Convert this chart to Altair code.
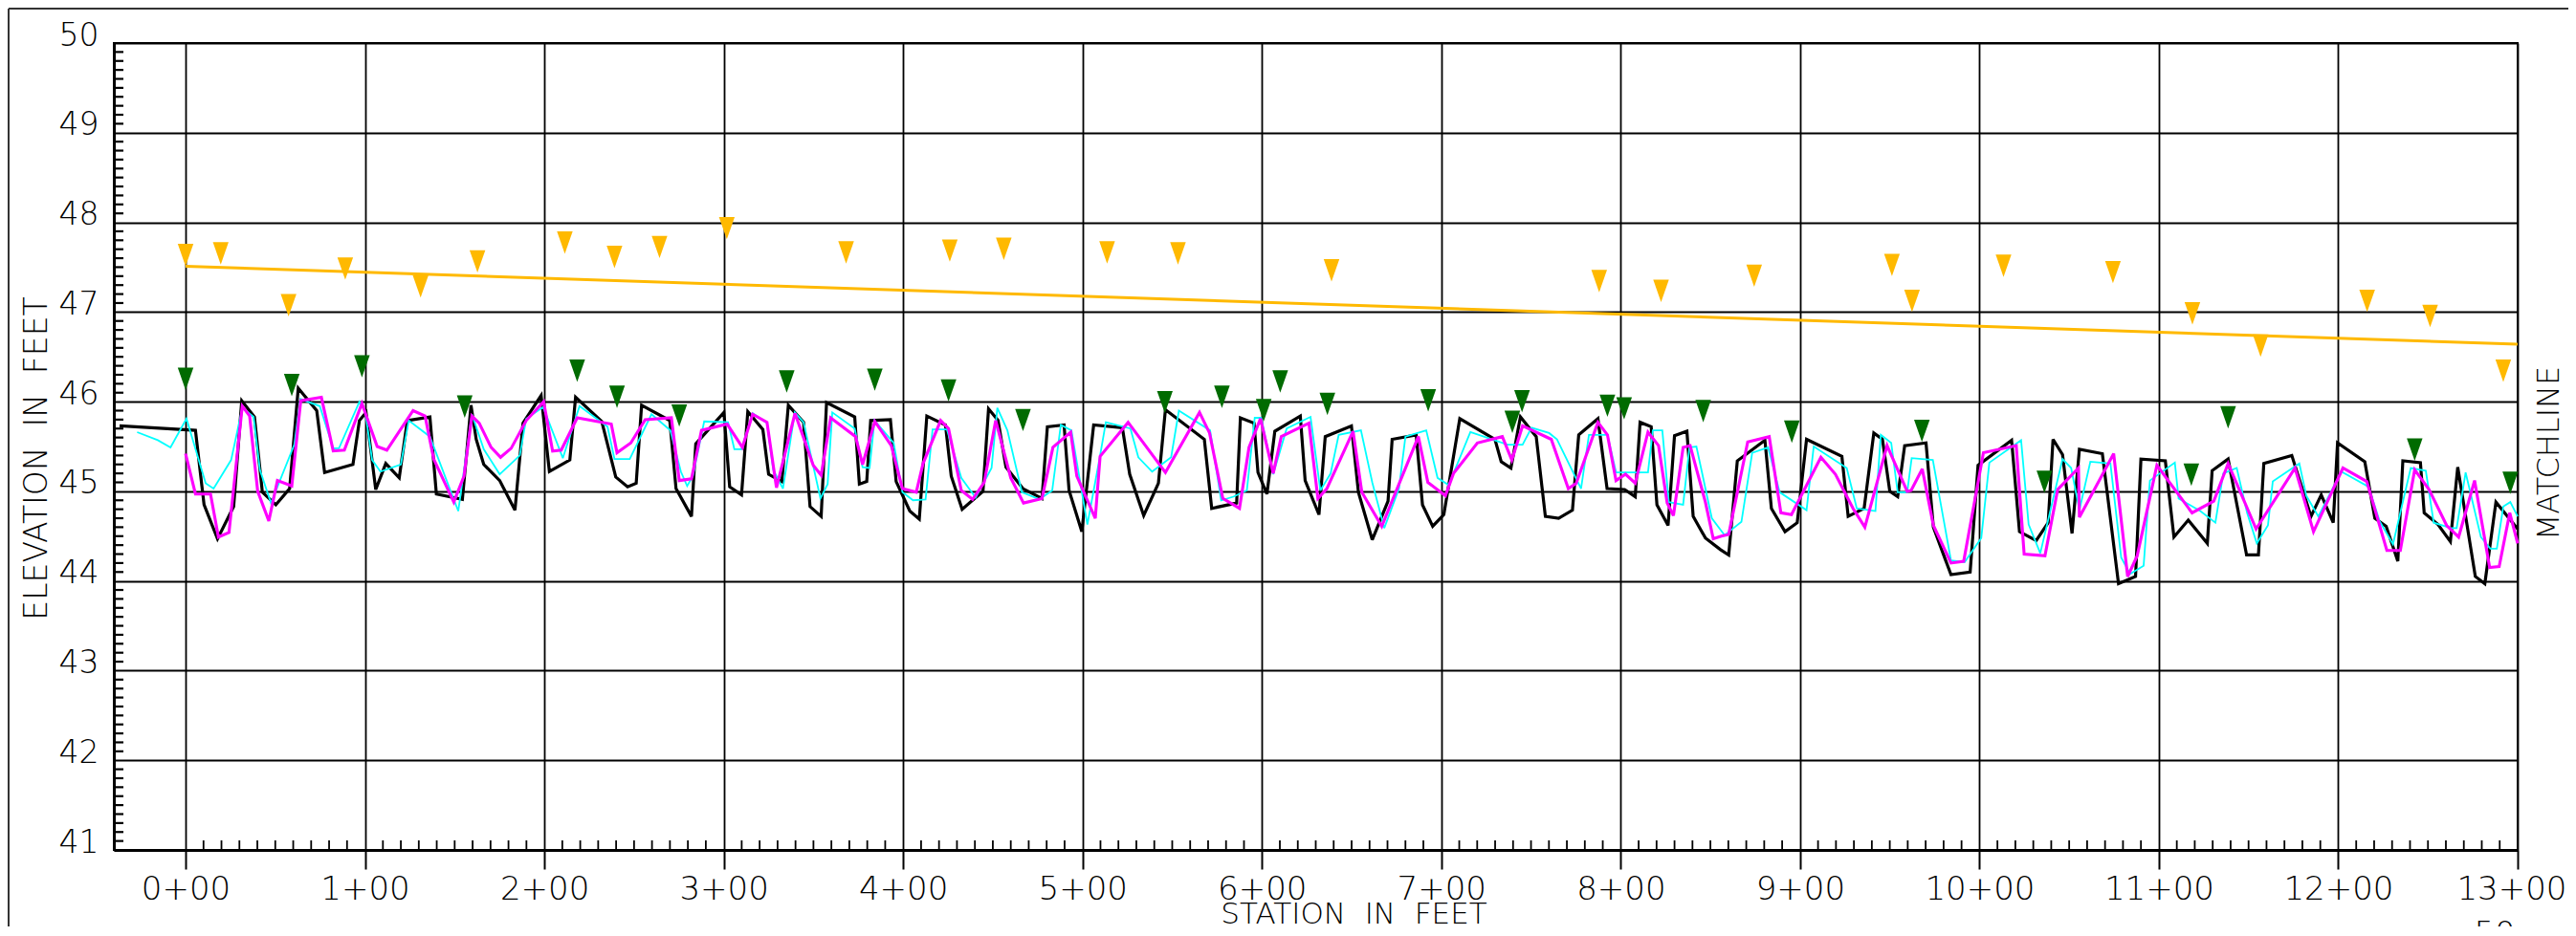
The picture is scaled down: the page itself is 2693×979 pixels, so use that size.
import altair as alt
import pandas as pd

# ---------------- data ----------------
X_MIN, X_MAX = -40, 1300
Y_MIN, Y_MAX = 41, 50

station_ticks = [0, 100, 200, 300, 400, 500, 600, 700, 800, 900, 1000, 1100, 1200, 1300]
station_labels = ["0+00", "1+00", "2+00", "3+00", "4+00", "5+00", "6+00", "7+00",
                  "8+00", "9+00", "10+00", "11+00", "12+00", "13+00"]
elev_ticks = [41, 42, 43, 44, 45, 46, 47, 48, 49, 50]
elev_labels = ["41", "42", "43", "44", "45", "46", "47", "48", "49", "50"]

black_line = [
    (-36.8, 45.73), (5.5, 45.68), (10.3, 44.85), (17.8, 44.47), (26.8, 44.83), (31.3, 46.01),
    (38.4, 45.83), (42.8, 44.99), (50.3, 44.85), (58.0, 45.03), (62.8, 46.15), (73.1, 45.90),
    (77.5, 45.21), (93.3, 45.30), (96.9, 45.79), (100.6, 45.88), (106.0, 45.02), (111.6, 45.31),
    (119.1, 45.15), (123.6, 45.79), (136.2, 45.83), (139.8, 44.97), (154.3, 44.91), (159.1, 45.96),
    (162.0, 45.58), (166.2, 45.30), (175.1, 45.12), (183.6, 44.79), (188.1, 45.76), (198.2, 46.07),
    (202.8, 45.22), (214.2, 45.35), (217.4, 46.05), (232.0, 45.78), (239.8, 45.16), (246.4, 45.05),
    (251.2, 45.09), (254.2, 45.96), (269.9, 45.79), (273.4, 45.03), (282.0, 44.72), (284.4, 45.53),
    (300.1, 45.88), (303.3, 45.05), (309.9, 44.96), (313.4, 45.89), (321.8, 45.69), (325.0, 45.19),
    (332.4, 45.11), (336.0, 45.96), (344.5, 45.77), (348.1, 44.83), (354.3, 44.72), (357.3, 45.99),
    (373.0, 45.83), (375.6, 45.08), (379.7, 45.11), (381.9, 45.79), (392.9, 45.80), (396.1, 45.11),
    (403.7, 44.78), (409.0, 44.69), (413.2, 45.84), (423.6, 45.74), (426.8, 45.17), (432.9, 44.80),
    (444.5, 45.00), (447.6, 45.92), (452.9, 45.79), (457.3, 45.27), (466.8, 45.03), (477.4, 44.92),
    (480.4, 45.72), (489.7, 45.74), (492.5, 45.01), (499.6, 44.55), (506.2, 45.74), (522.2, 45.71),
    (526.3, 45.19), (534.1, 44.73), (542.3, 45.09), (546.2, 45.91), (567.9, 45.58), (572.0, 44.81),
    (585.9, 44.87), (588.0, 45.82), (595.6, 45.76), (597.8, 45.21), (602.8, 44.97), (607.2, 45.67),
    (621.4, 45.84), (624.1, 45.12), (631.8, 44.74), (635.3, 45.61), (649.9, 45.73), (653.8, 44.99),
    (661.5, 44.46), (670.3, 44.89), (672.6, 45.58), (686.0, 45.63), (689.5, 44.85), (695.2, 44.61),
    (701.4, 44.74), (710.3, 45.81), (729.9, 45.58), (733.4, 45.33), (738.8, 45.26), (744.1, 45.83),
    (752.9, 45.61), (758.0, 44.72), (765.4, 44.70), (773.1, 44.79), (776.6, 45.63), (787.3, 45.81),
    (792.4, 45.03), (802.2, 45.02), (808.1, 44.94), (810.8, 45.77), (817.0, 45.72), (820.2, 44.85),
    (826.4, 44.62), (830.0, 45.62), (836.9, 45.67), (840.4, 44.72), (847.2, 44.48), (855.6, 44.35),
    (860.2, 44.29), (865.0, 45.34), (880.4, 45.57), (884.0, 44.81), (891.6, 44.55), (898.4, 44.65),
    (903.6, 45.58), (923.3, 45.39), (926.8, 44.72), (935.7, 44.81), (941.1, 45.65), (945.9, 45.58),
    (950.0, 45.00), (954.4, 44.94), (958.3, 45.51), (970.2, 45.54), (974.3, 44.60), (984.1, 44.07),
    (994.8, 44.10), (999.2, 45.29), (1017.9, 45.57), (1022.3, 44.55), (1031.6, 44.45), (1038.3, 44.65),
    (1041.0, 45.58), (1046.3, 45.41), (1051.6, 44.53), (1055.7, 45.47), (1068.5, 45.42), (1077.5, 43.97),
    (1087.0, 44.05), (1090.0, 45.36), (1103.6, 45.34), (1108.4, 44.49), (1116.4, 44.68), (1127.0, 44.42),
    (1129.7, 45.23), (1138.6, 45.36), (1148.9, 44.29), (1155.5, 44.29), (1158.5, 45.31), (1174.1, 45.40),
    (1184.8, 44.72), (1190.5, 44.96), (1197.2, 44.65), (1199.6, 45.54), (1214.8, 45.33), (1220.4, 44.70),
    (1226.7, 44.61), (1233.2, 44.22), (1236.0, 45.34), (1245.8, 45.32), (1247.9, 44.76), (1255.6, 44.63),
    (1262.5, 44.44), (1266.6, 45.27), (1276.4, 44.05), (1281.7, 43.97), (1287.9, 44.88), (1300.0, 44.58),
]

cyan_line = [
    (-27.0, 45.66), (-15.5, 45.57), (-8.4, 45.49), (0.5, 45.81), (11.2, 45.09), (15.6, 45.03),
    (25.4, 45.35), (31.6, 45.93), (37.9, 45.83), (41.4, 45.24), (47.6, 44.87), (60.6, 45.52),
    (64.0, 46.03), (74.8, 45.95), (82.3, 45.48), (85.5, 45.48), (96.9, 46.00), (100.1, 45.89),
    (104.0, 45.35), (108.6, 45.22), (120.0, 45.30), (124.4, 45.79), (136.2, 45.61), (152.0, 44.78),
    (159.6, 45.86), (166.2, 45.47), (175.1, 45.19), (186.3, 45.40), (189.9, 45.81), (199.3, 45.94),
    (210.3, 45.37), (219.6, 45.95), (235.2, 45.72), (239.1, 45.36), (247.6, 45.36), (259.7, 45.86),
    (270.2, 45.68), (276.1, 45.22), (279.6, 45.06), (282.8, 45.17), (289.1, 45.78), (302.4, 45.77),
    (305.9, 45.47), (309.9, 45.47), (316.1, 45.87), (324.1, 45.76), (327.6, 45.24), (333.0, 45.03),
    (339.6, 45.88), (344.5, 45.77), (353.9, 44.92), (357.9, 45.08), (360.5, 45.88), (373.0, 45.70),
    (377.4, 45.27), (381.3, 45.26), (384.0, 45.79), (394.7, 45.54), (399.6, 44.99), (405.5, 44.90),
    (412.5, 44.91), (416.4, 45.69), (424.4, 45.69), (432.4, 45.15), (440.4, 44.93), (449.3, 45.26),
    (452.5, 45.93), (458.1, 45.68), (466.2, 44.99), (476.0, 44.91), (483.1, 45.01), (487.9, 45.74),
    (493.8, 45.68), (502.7, 44.63), (509.8, 45.40), (513.0, 45.77), (526.7, 45.70), (531.1, 45.38),
    (538.8, 45.22), (549.4, 45.38), (553.7, 45.90), (571.1, 45.68), (577.3, 44.90), (584.1, 44.94),
    (591.6, 45.01), (596.0, 45.82), (599.6, 45.82), (606.3, 45.19), (613.8, 45.70), (627.1, 45.83),
    (632.6, 45.01), (638.3, 45.20), (642.8, 45.63), (655.2, 45.68), (661.5, 45.10), (668.2, 44.59),
    (676.4, 45.03), (680.0, 45.61), (691.6, 45.68), (697.9, 45.15), (704.1, 45.07), (716.2, 45.66),
    (737.0, 45.52), (745.3, 45.52), (750.3, 45.71), (760.1, 45.65), (764.5, 45.58), (777.9, 45.03),
    (782.3, 45.63), (792.6, 45.63), (797.4, 45.21), (815.2, 45.21), (817.9, 45.68), (823.2, 45.68),
    (826.8, 44.88), (834.8, 44.85), (838.3, 45.49), (842.2, 45.50), (850.8, 44.70), (857.9, 44.51),
    (867.3, 44.66), (873.3, 45.43), (882.2, 45.49), (888.6, 44.99), (903.6, 44.79), (907.6, 45.50),
    (926.0, 45.26), (931.6, 44.81), (942.0, 44.78), (945.0, 45.63), (950.8, 45.54), (954.4, 44.99),
    (959.7, 44.99), (962.2, 45.37), (974.0, 45.35), (984.1, 44.23), (991.7, 44.21), (1001.0, 44.48),
    (1005.5, 45.32), (1023.2, 45.57), (1027.4, 44.63), (1033.9, 44.31), (1046.3, 45.36), (1051.1, 45.26),
    (1055.7, 44.79), (1061.8, 45.33), (1073.0, 45.31), (1079.0, 44.26), (1084.0, 44.08), (1091.5, 44.17),
    (1095.0, 45.12), (1108.9, 45.32), (1111.0, 44.92), (1123.1, 44.78), (1131.5, 44.65), (1135.9, 45.20),
    (1143.4, 45.26), (1149.2, 44.76), (1154.6, 44.42), (1160.8, 44.62), (1163.5, 45.11), (1178.3, 45.31),
    (1182.2, 44.95), (1188.9, 44.72), (1201.7, 45.22), (1216.9, 45.05), (1223.0, 44.67), (1230.5, 44.41),
    (1240.4, 45.26), (1248.8, 45.23), (1253.2, 44.65), (1262.9, 44.59), (1266.0, 44.59), (1271.0, 45.21),
    (1279.5, 44.49), (1284.8, 44.36), (1288.4, 44.36), (1292.0, 44.83), (1295.9, 44.88), (1300.0, 44.72),
]

magenta_line = [
    (0.0, 45.42), (5.5, 44.97), (13.9, 44.97), (18.3, 44.49), (24.2, 44.54), (31.6, 45.95),
    (35.7, 45.84), (40.2, 45.00), (46.4, 44.67), (51.2, 45.12), (59.2, 45.06), (64.2, 46.01),
    (75.7, 46.05), (82.3, 45.45), (88.5, 45.46), (98.3, 45.98), (106.8, 45.50), (112.2, 45.46),
    (126.8, 45.90), (133.5, 45.84), (138.3, 45.36), (149.5, 44.88), (155.2, 45.17), (159.6, 45.84),
    (163.7, 45.76), (170.3, 45.49), (175.6, 45.38), (181.5, 45.48), (189.9, 45.79), (199.6, 46.00),
    (204.6, 45.45), (209.4, 45.46), (218.3, 45.82), (237.3, 45.75), (240.5, 45.43), (248.2, 45.54),
    (256.2, 45.80), (270.8, 45.82), (275.2, 45.12), (282.0, 45.14), (287.6, 45.68), (301.9, 45.75),
    (310.4, 45.49), (316.1, 45.86), (324.1, 45.77), (329.4, 45.04), (339.7, 45.87), (349.9, 45.29),
    (354.3, 45.18), (359.6, 45.82), (373.5, 45.61), (377.4, 45.30), (384.2, 45.78), (393.4, 45.51),
    (399.6, 45.03), (407.3, 44.99), (411.1, 45.31), (420.9, 45.79), (425.3, 45.70), (432.4, 45.01),
    (438.7, 44.91), (445.2, 45.10), (451.6, 45.79), (460.0, 45.15), (467.1, 44.87), (477.4, 44.92),
    (483.5, 45.49), (493.4, 45.66), (496.8, 45.17), (507.1, 44.70), (509.8, 45.39), (525.4, 45.77),
    (546.2, 45.21), (565.2, 45.88), (570.8, 45.65), (578.2, 44.92), (587.5, 44.81), (592.8, 45.49),
    (599.2, 45.81), (606.3, 45.20), (610.8, 45.61), (626.2, 45.76), (631.2, 44.92), (636.2, 45.03),
    (650.8, 45.67), (655.7, 44.99), (666.8, 44.61), (687.2, 45.61), (692.5, 45.10), (702.3, 44.95),
    (706.8, 45.20), (720.1, 45.54), (734.0, 45.61), (739.3, 45.35), (745.3, 45.73), (761.3, 45.58),
    (770.8, 45.03), (775.2, 45.09), (787.3, 45.77), (792.6, 45.63), (797.4, 45.12), (802.7, 45.19),
    (808.1, 45.09), (815.2, 45.66), (821.1, 45.51), (825.9, 44.87), (829.4, 44.73), (834.8, 45.49),
    (838.7, 45.51), (847.2, 44.88), (851.6, 44.47), (856.1, 44.50), (860.2, 44.52), (870.8, 45.55),
    (882.8, 45.61), (889.3, 44.76), (895.2, 44.74), (911.6, 45.38), (919.7, 45.19), (929.5, 44.81),
    (936.1, 44.60), (948.5, 45.51), (959.7, 45.00), (961.9, 45.01), (968.1, 45.25), (974.3, 44.62),
    (984.1, 44.20), (991.2, 44.22), (1002.2, 45.43), (1020.5, 45.51), (1024.9, 44.30), (1036.5, 44.28),
    (1043.6, 45.02), (1055.2, 45.26), (1055.7, 44.71), (1074.8, 45.42), (1082.6, 44.05), (1087.9, 44.28),
    (1098.9, 45.29), (1118.5, 44.76), (1130.6, 44.89), (1138.6, 45.31), (1154.2, 44.58), (1175.9, 45.26),
    (1186.2, 44.55), (1202.6, 45.26), (1215.9, 45.11), (1227.1, 44.34), (1234.6, 44.34), (1242.6, 45.24),
    (1250.6, 45.02), (1260.4, 44.62), (1267.1, 44.49), (1276.0, 45.12), (1284.4, 44.15), (1289.7, 44.16),
    (1295.6, 44.76), (1300.0, 44.42),
]

trend_line = [(0.0, 47.51), (1300.0, 46.64)]

orange_marks = [
    (0.0, 47.51), (19.6, 47.53), (57.4, 46.95), (89.0, 47.36), (131.0, 47.16), (162.7, 47.44),
    (211.4, 47.65), (239.1, 47.49), (264.2, 47.60), (301.7, 47.81), (368.2, 47.54), (426.0, 47.56),
    (456.1, 47.58), (513.7, 47.54), (553.2, 47.53), (638.8, 47.34), (788.0, 47.22), (822.5, 47.11),
    (874.4, 47.28), (951.2, 47.40), (962.4, 47.00), (1013.4, 47.39), (1074.4, 47.32), (1118.7, 46.86),
    (1156.7, 46.50), (1216.1, 47.00), (1251.2, 46.83), (1292.0, 46.22),
]

green_marks = [
    (0.0, 46.13), (59.2, 46.06), (98.3, 46.27), (155.6, 45.82), (218.3, 46.22), (240.5, 45.93),
    (275.2, 45.72), (335.1, 46.10), (384.2, 46.12), (425.3, 46.00), (466.8, 45.67), (545.9, 45.87),
    (577.7, 45.93), (601.0, 45.78), (610.2, 46.10), (636.5, 45.85), (692.7, 45.89), (739.6, 45.65),
    (745.0, 45.88), (792.6, 45.83), (801.9, 45.80), (846.0, 45.77), (895.4, 45.54), (967.9, 45.55),
    (1036.2, 44.98), (1118.1, 45.06), (1138.6, 45.70), (1242.6, 45.34), (1295.9, 44.97),
]

minor_x = [s for s in range(10, 1300, 10) if s % 100 != 0]
minor_y = [round(41 + i / 10, 1) for i in range(1, 90) if i % 10 != 0]

# ---------------- styling ----------------
W, H = 2513, 844
FONT = "DejaVu Sans"
ORANGE = "#FFB900"
GREEN = "#006B00"
TRI = "M-0.7,-2L0.7,-2L0,0Z"   # downward triangle, tip at the data point


def frame(pairs):
    return pd.DataFrame({"sta": [p[0] for p in pairs],
                         "elev": [p[1] for p in pairs],
                         "i": list(range(len(pairs)))})


xs = alt.Scale(domain=[X_MIN, X_MAX], nice=False, zero=False)
ys = alt.Scale(domain=[Y_MIN, Y_MAX], nice=False, zero=False)

x_label_expr = "[" + ",".join(f"'{l}'" for l in station_labels) + "][round(datum.value/100)]"
y_label_expr = "[" + ",".join(f"'{l}'" for l in elev_labels) + "][round(datum.value-41)]"

x_axis = alt.Axis(
    values=station_ticks, labelExpr=x_label_expr,
    title="STATION\u00a0 IN\u00a0 FEET", titleFont=FONT, titleFontSize=31,
    titleFontWeight=200, titleColor="black", titleX=1296, titleY=76,
    titleAlign="center", titleBaseline="alphabetic",
    grid=True, gridColor="black", gridWidth=1.8, gridOpacity=1,
    domainColor="black", domainWidth=3, ticks=True, tickColor="black",
    tickWidth=2, tickSize=20, labelFont=FONT, labelFontSize=34,
    labelFontWeight=200, labelColor="black", labelPadding=31,
    labelBaseline="alphabetic", labelFlush=1, labelFlushOffset=51,
    labelOverlap=False, labelBound=False,
)
y_axis = alt.Axis(
    values=elev_ticks, labelExpr=y_label_expr,
    title="ELEVATION\u00a0 IN\u00a0 FEET", titleFont=FONT, titleFontSize=33,
    titleFontWeight=200, titleColor="black", titleAngle=270,
    titleX=-81, titleY=434, titleAlign="center", titleBaseline="middle",
    grid=True, gridColor="black", gridWidth=2, gridOpacity=1,
    domainColor="black", domainWidth=3, ticks=False,
    labelFont=FONT, labelFontSize=33, labelFontWeight=200, labelColor="black",
    labelPadding=16, labelBaseline="alphabetic", labelOffset=2,
    labelAlign="right", labelFlush=False, labelOverlap=False, labelBound=False,
)

XE = alt.X("sta:Q", scale=xs, axis=x_axis)
YE = alt.Y("elev:Q", scale=ys, axis=y_axis)

black_df = frame(black_line)
cyan_df = frame(cyan_line)
mag_df = frame(magenta_line)
trend_df = frame(trend_line)
orange_df = frame(orange_marks)
green_df = frame(green_marks)
minor_x_df = pd.DataFrame({"sta": minor_x})
minor_y_df = pd.DataFrame({"elev": minor_y})
one = pd.DataFrame({"k": [0]})


def line(df, color, width):
    return alt.Chart(df).mark_line(
        color=color, strokeWidth=width, strokeJoin="miter", strokeMiterLimit=3
    ).encode(x=XE, y=YE, order="i:Q")


def tris(df, color):
    return alt.Chart(df).mark_point(
        shape=TRI, size=548, filled=True, color=color, opacity=1, strokeWidth=0
    ).encode(x=XE, y=YE)


minor_x_ticks = alt.Chart(minor_x_df).mark_rule(color="black", strokeWidth=1.8).encode(
    x=XE, y=alt.value(H - 10), y2=alt.value(H),
)
minor_y_ticks = alt.Chart(minor_y_df).mark_rule(color="black", strokeWidth=2.2).encode(
    y=YE, x=alt.value(0), x2=alt.value(10),
)

frame_top = alt.Chart(one).mark_rule(color="#333333", strokeWidth=2).encode(
    x=alt.value(-110), x2=alt.value(2600), y=alt.value(-36)
)
frame_left = alt.Chart(one).mark_rule(color="#333333", strokeWidth=2).encode(
    x=alt.value(-110), y=alt.value(-36), y2=alt.value(H + 120)
)

matchline = alt.Chart(one).mark_text(
    text="MATCHLINE", angle=270, font=FONT, fontSize=32, fontWeight=200,
    align="center", baseline="middle", color="black"
).encode(x=alt.value(2546), y=alt.value(429))

sheet_no = alt.Chart(one).mark_text(
    text="50", font=FONT, fontSize=34, fontWeight=200,
    align="center", baseline="alphabetic", color="black"
).encode(x=alt.value(2489), y=alt.value(943))

chart = alt.layer(
    line(black_df, "black", 3.2),
    minor_x_ticks,
    minor_y_ticks,
    line(cyan_df, "#00FFFF", 1.8),
    line(mag_df, "#FF00FF", 3.1),
    line(trend_df, ORANGE, 3),
    tris(orange_df, ORANGE),
    tris(green_df, GREEN),
    frame_top,
    frame_left,
    matchline,
    sheet_no,
).properties(
    width=W, height=H,
    autosize=alt.AutoSizeParams(type="none"),
    padding={"left": 111, "top": 37, "right": 53, "bottom": 80},
    background="white",
).configure_view(
    stroke="black", strokeWidth=2
)

chart.save("out.html", embed_options={"renderer": "svg", "actions": False})
